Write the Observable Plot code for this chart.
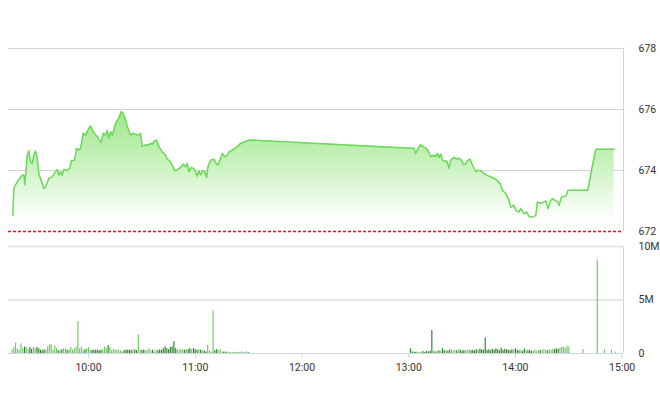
<!DOCTYPE html>
<html><head><meta charset="utf-8">
<script src="https://cdn.jsdelivr.net/npm/d3@7"></script>
<script src="https://cdn.jsdelivr.net/npm/@observablehq/plot@0.6"></script>
<style>
body{margin:0;background:#fff;font-family:Roboto,sans-serif}
#chart{position:relative;width:660px;height:412px;overflow:hidden}
#chart svg{position:absolute;left:0;overflow:visible;background:transparent}
</style></head><body><div id="chart"></div>
<script>
// ---- data ----
const priceTimes = ["9:17:25","9:18:00","9:19:53","9:22:42","9:23:36","9:24:10","9:25:31","9:26:25","9:27:22","9:28:20",
"9:29:14","9:30:11","9:31:08","9:32:02","9:33:00","9:34:51","9:35:49","9:37:40","9:39:35","9:41:26",
"9:42:23","9:43:17","9:44:15","9:45:12","9:46:06","9:48:01","9:49:29","9:50:26","9:52:07","9:53:15",
"9:54:32","9:55:30","9:57:01","9:58:19","9:59:36","10:01:07","10:02:38","10:04:53","10:07:08","10:08:16",
"10:09:34","10:10:31","10:11:25","10:12:22","10:13:20","10:14:14","10:15:11","10:17:03","10:18:24","10:19:31",
"10:20:49","10:21:46","10:23:37","10:25:08","10:27:00","10:28:17","10:29:15","10:30:12","10:32:04","10:33:55",
"10:34:52","10:35:50","10:36:44","10:38:15","10:39:32","10:41:27","10:43:19","10:44:16","10:45:10","10:47:05",
"10:48:22","10:49:53","10:51:45","10:53:16","10:54:34","10:55:31","10:56:25","10:57:46","10:58:53","11:00:11",
"11:01:08","11:02:02","11:03:00","11:03:58","11:05:15","11:06:22","11:07:07","11:08:37","11:10:29","11:12:00",
"11:12:44","11:13:51","11:15:13","11:16:30","11:18:01","11:18:55","11:20:50","11:23:39","11:25:30","11:28:19",
"11:29:16","11:30:44","13:01:07","13:02:59","13:03:56","13:05:48","13:06:45","13:08:16","13:09:34","13:10:51",
"13:12:22","13:13:53","13:15:11","13:16:08","13:17:02","13:18:00","13:18:58","13:20:15","13:21:22","13:22:40",
"13:23:37","13:25:29","13:27:00","13:28:17","13:29:38","13:30:46","13:32:04","13:33:01","13:34:29","13:35:50",
"13:37:41","13:38:59","13:40:30","13:42:22","13:45:10","13:47:59","13:49:53","13:51:21","13:52:42","13:54:34",
"13:56:25","13:57:22","13:59:14","14:00:11","14:02:02","14:03:00","14:04:51","14:06:22","14:07:40","14:09:35",
"14:11:26","14:12:23","14:14:15","14:16:07","14:17:04","14:18:22","14:19:29","14:20:50","14:22:07","14:23:38",
"14:24:32","14:25:53","14:28:19","14:29:36","14:40:31","14:41:25","14:43:20","14:45:11","14:55:29"];
const priceValues = [672.53,673.41,673.63,673.85,673.85,673.54,674.50,674.65,674.28,674.23,
674.50,674.64,674.40,673.90,673.74,673.41,673.46,673.74,673.79,673.96,
674.03,673.85,673.96,673.85,674.03,674.00,674.07,674.32,674.34,674.73,
674.67,674.73,675.22,675.16,675.33,675.46,675.27,675.11,674.92,675.22,
675.16,675.31,675.06,675.27,675.16,675.33,675.55,675.72,675.93,675.86,
675.66,675.44,675.17,675.22,675.17,675.17,675.22,674.80,674.84,674.84,
674.89,674.86,674.95,675.00,674.78,674.61,674.50,674.36,674.34,674.18,
673.99,674.01,674.10,674.21,674.12,674.24,673.96,674.10,674.07,673.96,
673.81,673.99,673.85,673.99,673.96,673.77,674.12,674.34,674.37,674.21,
674.18,674.34,674.56,674.45,674.50,674.61,674.67,674.78,674.89,674.95,
674.98,675.00,674.73,674.73,674.56,674.78,674.84,674.78,674.73,674.65,
674.45,674.50,674.45,674.56,674.43,674.54,674.34,674.29,674.32,674.07,
674.34,674.43,674.37,674.40,674.34,674.20,674.21,674.32,674.37,674.18,
673.96,674.01,673.99,673.90,673.81,673.74,673.66,673.57,673.35,673.24,
673.02,672.80,672.86,672.69,672.64,672.75,672.58,672.64,672.49,672.47,
672.53,672.97,672.92,672.97,673.00,672.75,672.97,673.08,673.02,672.97,
672.86,673.13,673.16,673.35,673.35,673.57,674.18,674.70,674.70];
const referencePrice = 672;
const areaBase = 672.3;

// volume per minute, millions of shares
const morningStart = "9:17:00";
const morningVolume = [0.3,0.55,0.95,0.4,0.3,0.9,0.45,0.6,0.55,0.35,
0.55,0.4,0.55,0.45,0.55,0.45,0.3,0.25,0.35,0.3,
0.6,0.8,0.85,0.3,0.7,0.45,0.25,0.3,0.35,0.45,
0.45,0.3,0.35,0.55,0.3,0.45,0.6,3.0,0.45,0.6,
0.3,0.35,0.45,0.55,0.3,0.3,0.3,0.3,0.3,0.25,
0.3,0.35,0.6,0.45,0.75,0.55,0.3,0.35,0.3,0.3,
0.3,0.25,0.15,0.25,0.3,0.3,0.3,0.3,0.3,0.35,
0.25,1.75,0.3,0.3,0.3,0.3,0.3,0.45,0.25,0.3,
0.15,0.3,0.25,0.35,0.3,0.45,0.6,0.45,0.35,0.55,
0.6,1.1,0.45,0.3,0.35,0.35,0.35,0.3,0.35,0.35,
0.45,0.35,0.45,0.35,0.3,0.35,0.3,0.25,0.25,0.15,
0.78,0.25,0.15,4.0,0.25,0.35,0.25,0.35,0.15,0.15,
0.12,0.15,0.1,0.12,0.1,0.12,0.1,0.12,0.1,0.15,
0.1,0.12,0.15,0.1];
const afternoonStart = "13:01:00";
const afternoonVolume = [0.45,0.15,0.12,0.1,0.15,0.1,0.12,0.18,0.1,0.2,
0.15,0.2,2.15,0.2,0.15,0.2,0.25,0.2,0.45,0.25,
0.3,0.2,0.3,0.35,0.25,0.3,0.25,0.35,0.3,0.2,
0.3,0.25,0.3,0.35,0.25,0.3,0.25,0.35,0.3,0.4,
0.35,0.3,1.45,0.3,0.35,0.25,0.4,0.3,0.45,0.35,
0.25,0.5,0.3,0.4,0.35,0.3,0.25,0.35,0.3,0.45,
0.3,0.25,0.3,0.2,0.45,0.3,0.25,0.3,0.2,0.25,
0.3,0.2,0.3,0.25,0.3,0.35,0.3,0.25,0.35,0.3,
0.4,0.35,0.45,0.4,0.5,0.55,0.6,0.5,0.65,0.6,
0,0,0,0,0,0,0,0.37,0,0,
0,0,0,0,0,8.75,0,0,0,0.35,
0,0,0,0.3,0,0.15];

const priceTicks = [672,674,676,678];
const volumeTicks = [0,5,10];
const timeTicks = ["10:00:00","11:00:00","12:00:00","13:00:00","14:00:00","15:00:00"];
const xStart = "9:15:00", xEnd = "15:00:45";

// ---- build ----
const parseT = s => { const [h,m,sec] = s.split(":").map(Number); return new Date(Date.UTC(2000,0,1,h,m,sec||0)); };
const priceData = priceTimes.map((t,i) => ({t: parseT(t), p: priceValues[i]}));
const MIN = 60000;
const volData = [];
const addVol = (start, arr) => { const t0 = +parseT(start); arr.forEach((v,i) => { if (v > 0) volData.push({t: new Date(t0 + i*MIN), v}); }); };
addVol(morningStart, morningVolume);
addVol(afternoonStart, afternoonVolume);
const bis = d3.bisector(d => d.t).right;
const priceAt = t => {
  const i = bis(priceData, t);
  if (i <= 0) return priceData[0].p;
  if (i >= priceData.length) return priceData[priceData.length-1].p;
  const a = priceData[i-1], b = priceData[i];
  return a.p + (b.p - a.p) * (t - a.t) / (b.t - a.t);
};
volData.forEach(d => { d.up = priceAt(d.t) >= priceAt(new Date(+d.t - MIN)); });

const x0 = parseT(xStart), x1 = parseT(xEnd);
const tickDates = timeTicks.map(parseT);
const W = 660, ML = 8, MR = 37;
const frame = "#ccd6eb";
const font = {fontFamily: "Roboto, sans-serif", fontSize: "10.5px", color: "#333", background: "transparent"};

const gradientMark = () => {
  const ns = "http://www.w3.org/2000/svg";
  const defs = document.createElementNS(ns, "defs");
  defs.innerHTML = '<linearGradient id="pg" x1="0" y1="0" x2="0" y2="1">' +
    '<stop offset="0" stop-color="#9fe78b"/>' +
    '<stop offset="0.5" stop-color="#ccf3c2"/>' +
    '<stop offset="0.85" stop-color="#f1fcee"/>' +
    '<stop offset="1" stop-color="#ffffff"/></linearGradient>';
  return defs;
};

const topChart = Plot.plot({
  width: W, height: 240, marginTop: 48, marginBottom: 9, marginLeft: ML, marginRight: MR,
  style: font,
  x: {type: "utc", domain: [x0, x1], axis: null},
  y: {domain: [672, 678], ticks: priceTicks, tickFormat: d3.format("d"), axis: "right", tickSize: 0, tickPadding: 15, label: null},
  marks: [
    gradientMark,
    Plot.ruleY(priceTicks.slice(1), {stroke: "#d4d4d4", strokeWidth: 1}),
    Plot.areaY(priceData, {x: "t", y1: areaBase, y2: "p", fill: "url(#pg)"}),
    Plot.lineY(priceData, {x: "t", y: "p", stroke: "#6ad957", strokeWidth: 1.5}),
    Plot.ruleY([referencePrice], {stroke: "#ee1111", strokeWidth: 1.6, strokeDasharray: "3,2"}),
    Plot.ruleX([x1], {y1: 672, y2: 678, stroke: frame})
  ]
});
topChart.style.top = "0px";

const botChart = Plot.plot({
  width: W, height: 172, marginTop: 6, marginBottom: 59, marginLeft: ML, marginRight: MR,
  style: font,
  x: {type: "utc", domain: [x0, x1], ticks: tickDates, tickFormat: d3.utcFormat("%H:%M"), tickSize: 5, tickPadding: 5, label: null},
  y: {domain: [0, 10], ticks: volumeTicks, axis: "right", tickSize: 0, tickPadding: 15, label: null,
      tickFormat: d => d === 0 ? "0" : d + "M"},
  marks: [
    Plot.ruleY(volumeTicks.slice(1), {stroke: "#dedede", strokeWidth: 1.6}),
    Plot.ruleX(volData.filter(d => !d.up), {x: "t", y1: 0, y2: "v", stroke: "#1f7d1f", strokeWidth: 1.1}),
    Plot.ruleX(volData.filter(d => d.up), {x: "t", y1: 0, y2: "v", stroke: "#6cc45f", strokeWidth: 1.1}),
    Plot.ruleY([0], {stroke: frame, strokeWidth: 1.2}),
    Plot.ruleX([x1], {y1: 0, y2: 10, stroke: frame})
  ]
});
botChart.style.top = "240px";
d3.select(botChart).selectAll('[aria-label="x-axis tick"], [aria-label="x-axis tick"] path, [aria-label="x-axis"] line')
  .attr("stroke", frame);

const c = document.getElementById("chart");
c.appendChild(topChart);
c.appendChild(botChart);
</script></body></html>
